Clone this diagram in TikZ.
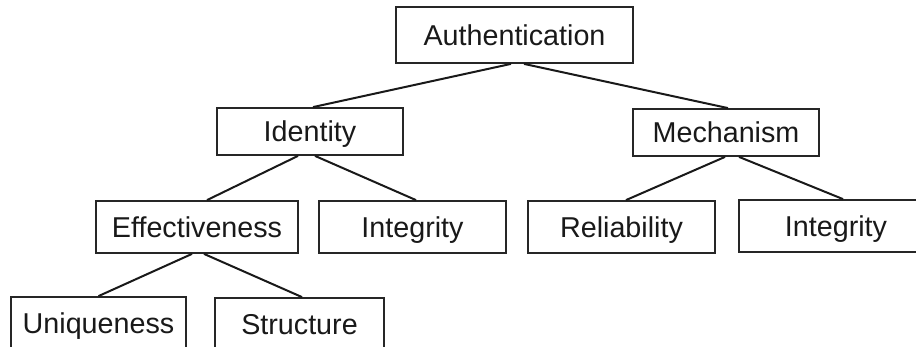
\documentclass[tikz,border=0pt]{standalone}
\usepackage{fontspec}
\setmainfont{Liberation Sans}
\begin{document}
\begin{tikzpicture}[x=1pt,y=-1pt,
  box/.style={draw=black!85, line width=1.8pt, fill=white, inner sep=0pt,
    font=\fontsize{28.7}{34}\selectfont, text=black!90,
    text height=20.5pt, text depth=0pt},
  link/.style={draw=black!90, line width=2pt}]
\useasboundingbox (0,0) rectangle (916,347);
\clip (0,0) rectangle (916,347);
\node[box, minimum width=237pt, minimum height=56pt] (auth) at (514.5,35) {Authentication};
\node[box, minimum width=186pt, minimum height=47pt] (ident) at (310,131.5) {Identity};
\node[box, minimum width=186pt, minimum height=47pt] (mech) at (726,132.5) {Mechanism};
\node[box, minimum width=202pt, minimum height=52pt] (eff) at (197,227) {Effectiveness};
\node[box, minimum width=187pt, minimum height=52pt] (integA) at (412.5,227) {Integrity};
\node[box, minimum width=187pt, minimum height=52pt] (rel) at (621.5,227) {Reliability};
\node[box, minimum width=194pt, minimum height=52pt] (integB) at (836,226) {Integrity};
\node[box, minimum width=175pt, minimum height=53pt] (uniq) at (98.5,323.5) {Uniqueness};
\node[box, minimum width=169pt, minimum height=52pt] (struct) at (299.5,324) {Structure};
\draw[link] ([xshift=-3.5pt]auth.south) -- ([xshift=3pt]ident.north);
\draw[link] ([xshift=9.5pt]auth.south) -- ([xshift=2pt]mech.north);
\draw[link] ([xshift=-12pt]ident.south) -- ([xshift=10pt]eff.north);
\draw[link] ([xshift=5pt]ident.south) -- ([xshift=3.5pt]integA.north);
\draw[link] ([xshift=-5pt]eff.south) -- ([xshift=0pt]uniq.north);
\draw[link] ([xshift=7pt]eff.south) -- ([xshift=2.5pt]struct.north);
\draw[link] ([xshift=-1pt]mech.south) -- ([xshift=4.5pt]rel.north);
\draw[link] ([xshift=13pt]mech.south) -- ([xshift=7pt]integB.north);
\end{tikzpicture}
\end{document}
